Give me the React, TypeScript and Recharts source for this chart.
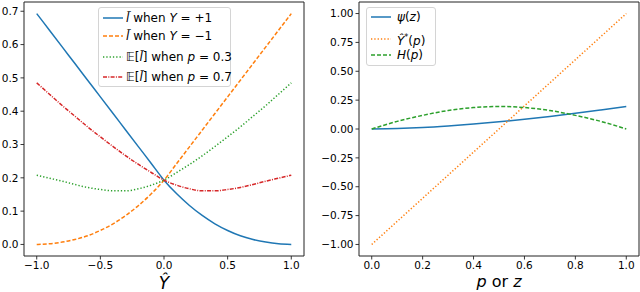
import { LineChart, Line, XAxis, YAxis, ReferenceArea, Legend } from 'recharts'

// left panel: surrogate loss curves over Y-hat
const yHat = [-1, -0.9, -0.8, -0.7, -0.6, -0.5, -0.4, -0.3, -0.2, -0.1, 0, 0.1, 0.2, 0.3, 0.4, 0.5, 0.6, 0.7, 0.8, 0.9, 1]
const lossPos = [0.693, 0.643, 0.593, 0.543, 0.493, 0.443, 0.393, 0.343, 0.293, 0.243, 0.193, 0.152, 0.117, 0.087, 0.062, 0.042, 0.026, 0.015, 0.007, 0.002, 0]
const lossNeg = [0, 0.002, 0.007, 0.015, 0.026, 0.042, 0.062, 0.087, 0.117, 0.152, 0.193, 0.243, 0.293, 0.343, 0.393, 0.443, 0.493, 0.543, 0.593, 0.643, 0.693]
const expP03 = [0.208, 0.199, 0.19, 0.18, 0.171, 0.165, 0.161, 0.161, 0.167, 0.178, 0.193, 0.216, 0.24, 0.266, 0.294, 0.323, 0.353, 0.385, 0.417, 0.451, 0.485]
const expP07 = [0.485, 0.451, 0.417, 0.385, 0.353, 0.323, 0.294, 0.266, 0.24, 0.216, 0.193, 0.178, 0.167, 0.161, 0.161, 0.165, 0.171, 0.18, 0.19, 0.199, 0.208]

// right panel: functions of p or z
const pz = [0, 0.1, 0.2, 0.3, 0.4, 0.5, 0.6, 0.7, 0.8, 0.9, 1]
const psi = [0, 0.004, 0.013, 0.027, 0.044, 0.062, 0.084, 0.109, 0.136, 0.165, 0.195]
const yStar = [-1, -0.8, -0.6, -0.4, -0.2, 0, 0.2, 0.4, 0.6, 0.8, 1]
const entropyH = [0, 0.066, 0.118, 0.16, 0.186, 0.195, 0.186, 0.16, 0.118, 0.066, 0]

const leftTicksX = [-1, -0.5, 0, 0.5, 1]
const leftTicksY = [0, 0.1, 0.2, 0.3, 0.4, 0.5, 0.6, 0.7]
const rightTicksX = [0, 0.2, 0.4, 0.6, 0.8, 1]
const rightTicksY = [-1, -0.75, -0.5, -0.25, 0, 0.25, 0.5, 0.75, 1]

const leftData = yHat.map((x, i) => ({
  x,
  lossPos: lossPos[i],
  lossNeg: lossNeg[i],
  expP03: expP03[i],
  expP07: expP07[i],
}))
const rightData = pz.map((x, i) => ({ x, psi: psi[i], yStar: yStar[i], entropyH: entropyH[i] }))

const BLUE = '#1f77b4'
const ORANGE = '#ff7f0e'
const GREEN = '#2ca02c'
const RED = '#d62728'
const FONT = 'DejaVu Sans'
const LW = 1.5

const fmt = (digits: number) => (v: number) => v.toFixed(digits).replace('-', '\u2212')
const tickStyle = { fontSize: 10.5, fill: '#000', fontFamily: FONT }
const tickLine = { stroke: '#222', strokeWidth: 0.9 }

const leftLim = { x: [-1.1, 1.1], y: [-0.0347, 0.7278] }
const rightLim = { x: [-0.05, 1.05], y: [-1.1, 1.1] }

function YhatLabel(props: any) {
  const vb = props.viewBox || {}
  return (
    <text x={vb.x + vb.width / 2} y={vb.y + vb.height - 3} textAnchor="middle" fontFamily={FONT} fontSize={17} fontStyle="italic" fill="#000">
      Ŷ
    </text>
  )
}

function PorZLabel(props: any) {
  const vb = props.viewBox || {}
  return (
    <text x={vb.x + vb.width / 2} y={vb.y + vb.height - 5} textAnchor="middle" fontFamily={FONT} fontSize={16} fill="#000">
      <tspan fontStyle="italic">p</tspan>
      <tspan> or </tspan>
      <tspan fontStyle="italic">z</tspan>
    </text>
  )
}

type Row = { color: string; dash?: string; top: number; label: any }

const leftRows: Row[] = [
  { color: BLUE, top: 10, label: <><i>l&#x303;</i> when <i>Y</i> = +1</> },
  { color: ORANGE, dash: '4 2', top: 28, label: <><i>l&#x303;</i> when <i>Y</i> = {'\u2212'}1</> },
  { color: GREEN, dash: '1.3 2', top: 49, label: <>{'\u{1D53C}'}[<i>l&#x303;</i>] when <i>p</i> = 0.3</> },
  { color: RED, dash: '4 1.3 1 1.3', top: 69, label: <>{'\u{1D53C}'}[<i>l&#x303;</i>] when <i>p</i> = 0.7</> },
]

const rightRows: Row[] = [
  { color: BLUE, top: 9, label: <><i>ψ</i>(<i>z</i>)</> },
  { color: ORANGE, dash: '1.3 2', top: 31, label: <><i>Ŷ</i><sup style={{ fontSize: 8 }}>*</sup>(<i>p</i>)</> },
  { color: GREEN, dash: '4 2', top: 47, label: <><i>H</i>(<i>p</i>)</> },
]

function LegendBox({ rows, width, height, textLeft }: { rows: Row[]; width: number; height: number; textLeft: number }) {
  return (
    <div
      style={{
        position: 'relative',
        width,
        height,
        boxSizing: 'border-box',
        border: '1px solid #d4d4d4',
        borderRadius: 3,
        background: 'rgba(255,255,255,0.85)',
        fontFamily: FONT,
        fontSize: 12,
        color: '#000',
      }}
    >
      {rows.map((r, i) => (
        <div key={i} style={{ position: 'absolute', left: 3, top: r.top - 8, height: 16, display: 'flex', alignItems: 'center', whiteSpace: 'nowrap' }}>
          <svg width={22} height={16} style={{ flex: 'none' }}>
            <line x1={1} y1={8} x2={21} y2={8} stroke={r.color} strokeWidth={LW} strokeDasharray={r.dash} />
          </svg>
          <span style={{ marginLeft: textLeft - 25, lineHeight: '16px' }}>{r.label}</span>
        </div>
      ))}
    </div>
  )
}

export default function App() {
  return (
    <div style={{ position: 'absolute', left: 0, top: 0, width: 640, height: 292, background: '#fff' }}>
      <div style={{ position: 'absolute', left: 0, top: 0 }}>
        <LineChart width={320} height={292} data={leftData} margin={{ top: 2, right: 16, bottom: 0, left: 0 }}>
          <XAxis
            dataKey="x"
            type="number"
            domain={leftLim.x}
            allowDataOverflow
            ticks={leftTicksX}
            interval={0}
            tickFormatter={fmt(1)}
            height={36}
            axisLine={false}
            tickLine={tickLine}
            tickSize={3.5}
            tick={tickStyle}
            label={<YhatLabel />}
          />
          <YAxis
            type="number"
            domain={leftLim.y}
            allowDataOverflow
            ticks={leftTicksY}
            interval={0}
            tickFormatter={fmt(1)}
            width={24}
            axisLine={false}
            tickLine={tickLine}
            tickSize={3.5}
            tick={tickStyle}
          />
          <ReferenceArea x1={leftLim.x[0]} x2={leftLim.x[1]} y1={leftLim.y[0]} y2={leftLim.y[1]} fill="none" stroke="#222" strokeWidth={1} ifOverflow="visible" />
          <Line type="monotone" dataKey="lossPos" stroke={BLUE} strokeWidth={LW} dot={false} isAnimationActive={false} />
          <Line type="monotone" dataKey="lossNeg" stroke={ORANGE} strokeWidth={LW} strokeDasharray="4 2" dot={false} isAnimationActive={false} />
          <Line type="monotone" dataKey="expP03" stroke={GREEN} strokeWidth={LW} strokeDasharray="1.3 2" dot={false} isAnimationActive={false} />
          <Line type="monotone" dataKey="expP07" stroke={RED} strokeWidth={LW} strokeDasharray="4 1.3 1 1.3" dot={false} isAnimationActive={false} />
          <Legend
            layout="vertical"
            align="center"
            verticalAlign="middle"
            wrapperStyle={{ left: 98, top: 7, width: 133, height: 80, margin: 0 }}
            content={() => <LegendBox rows={leftRows} width={133} height={80} textLeft={27} />}
          />
        </LineChart>
      </div>
      <div style={{ position: 'absolute', left: 320, top: 0 }}>
        <LineChart width={320} height={292} data={rightData} margin={{ top: 2, right: 1, bottom: 0, left: 0 }}>
          <XAxis
            dataKey="x"
            type="number"
            domain={rightLim.x}
            allowDataOverflow
            ticks={rightTicksX}
            interval={0}
            tickFormatter={fmt(1)}
            height={36}
            axisLine={false}
            tickLine={tickLine}
            tickSize={3.5}
            tick={tickStyle}
            label={<PorZLabel />}
          />
          <YAxis
            type="number"
            domain={rightLim.y}
            allowDataOverflow
            ticks={rightTicksY}
            interval={0}
            tickFormatter={fmt(2)}
            width={39}
            axisLine={false}
            tickLine={tickLine}
            tickSize={3.5}
            tick={tickStyle}
          />
          <ReferenceArea x1={rightLim.x[0]} x2={rightLim.x[1]} y1={rightLim.y[0]} y2={rightLim.y[1]} fill="none" stroke="#222" strokeWidth={1} ifOverflow="visible" />
          <Line type="monotone" dataKey="psi" stroke={BLUE} strokeWidth={LW} dot={false} isAnimationActive={false} />
          <Line type="monotone" dataKey="yStar" stroke={ORANGE} strokeWidth={LW} strokeDasharray="1.3 2" dot={false} isAnimationActive={false} />
          <Line type="monotone" dataKey="entropyH" stroke={GREEN} strokeWidth={LW} strokeDasharray="4 2" dot={false} isAnimationActive={false} />
          <Legend
            layout="vertical"
            align="center"
            verticalAlign="middle"
            wrapperStyle={{ left: 46, top: 7, width: 70, height: 59, margin: 0 }}
            content={() => <LegendBox rows={rightRows} width={70} height={59} textLeft={30} />}
          />
        </LineChart>
      </div>
    </div>
  )
}
